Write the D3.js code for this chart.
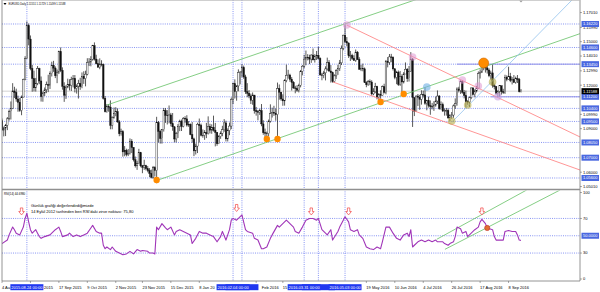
<!DOCTYPE html>
<html><head><meta charset="utf-8">
<script src="https://cdn.jsdelivr.net/npm/d3@7/dist/d3.min.js"></script>
<style>
html,body{margin:0;padding:0;background:#fff;}
svg{display:block;font-family:"Liberation Sans",Arial,sans-serif;}
</style></head><body>
<svg id="chart" width="600" height="292"></svg>
<script>
// ---------------- categories (trading days) ----------------
const firstDate = "2015-08-04", lastDate = "2016-09-19";
const closedDates = ["2015-12-25", "2016-01-01"];

// ---------------- EURUSD daily OHLC ----------------
const open = [1.0955,1.0890,1.0905,1.0923,1.0968,1.1017,1.1040,1.1160,1.1150,1.1105,1.1082,1.1025,1.1118,1.1240,1.1385,1.1611,1.1518,1.1316,1.1246,1.1182,
1.1212,1.1315,1.1229,1.1121,1.1146,1.1168,1.1203,1.1201,1.1279,1.1338,1.1318,1.1265,1.1290,1.1432,1.1302,1.1193,1.1131,1.1187,1.1206,1.1198,1.1239,1.1247,
1.1177,1.1194,1.1212,1.1190,1.1262,1.1245,1.1276,1.1357,1.1360,1.1379,1.1472,1.1380,1.1348,1.1324,1.1346,1.1343,1.1110,1.1017,1.1052,1.1049,1.0924,1.0975,
1.1004,1.1017,1.0947,1.0865,1.0880,1.0740,1.0751,1.0722,1.0729,1.0814,1.0771,1.0686,1.0644,1.0658,1.0734,1.0644,1.0634,1.0645,1.0624,1.0612,1.0592,
1.0565,1.0632,1.0612,1.0942,1.0882,1.0832,1.0893,1.1025,1.0993,1.0989,1.0995,1.0934,1.0913,1.0829,1.0867,1.0916,1.0952,1.0916,1.0970,1.0968,1.0925,1.0931,
1.0860,1.0830,1.0747,1.0780,1.0930,1.0922,1.0855,1.0854,1.0874,1.0865,1.0916,1.0890,1.0910,1.0890,1.0874,1.0796,1.0846,1.0868,1.0893,1.0940,
1.0830,1.0887,1.0918,1.1102,1.1210,1.1156,1.1195,1.1288,1.1290,1.1322,1.1257,1.1155,1.1144,1.1126,1.1096,1.1132,1.1025,1.1017,1.1013,1.1024,1.0933,
1.0872,1.0870,1.0866,1.0952,1.1003,1.1013,1.1007,1.0997,1.1177,1.1152,1.1105,1.1092,1.1232,1.1268,1.1270,1.1240,1.1220,1.1181,1.1177,1.1165,1.1199,1.1295,1.1331,
1.1380,1.1390,1.1392,1.1380,1.1408,1.1375,1.1397,1.1407,1.1385,1.1271,1.1268,1.1285,1.1312,1.1356,1.1298,1.1286,1.1224,1.1264,1.1300,1.1316,1.1354,
1.1454,1.1545,1.1500,1.1491,1.1403,1.1404,1.1385,1.1371,1.1428,1.1378,1.1310,1.1316,1.1313,1.1218,1.1203,1.1225,1.1222,1.1140,1.1154,1.1192,1.1116,1.1136,
1.1131,1.1189,1.1151,1.1365,1.1357,1.1395,1.1393,1.1313,1.1253,1.1290,1.1205,1.1260,1.1222,1.1277,1.1310,1.1245,1.1296,1.1380,1.1115,1.1021,1.1125,1.1117,
1.1103,1.1135,1.1133,1.1075,1.1093,1.1059,1.1052,1.1053,1.1063,1.1091,1.1125,1.1038,1.1066,1.1022,1.1023,1.1025,1.0975,1.0993,1.0994,1.1057,1.1074,
1.1174,1.1163,1.1224,1.1151,1.1129,1.1087,1.1084,1.1113,1.1181,1.1136,1.1160,1.1180,1.1280,1.1290,1.1350,1.1325,1.1319,1.1305,1.1265,1.1285,1.1197,1.1190,1.1144,
1.1157,1.1196,1.1155,1.1150,1.1255,1.1240,1.1260,1.1233,1.1240,1.1220,1.1245,1.1240,1.1155];
const high = [1.0970,1.0915,1.0933,1.0980,1.1032,1.1088,1.1214,1.1189,1.1176,1.1128,1.1112,1.1129,1.1245,1.1400,1.1640,1.1625,1.1543,1.1340,1.1300,1.1250,
1.1332,1.1320,1.1260,1.1156,1.1184,1.1225,1.1272,1.1295,1.1362,1.1368,1.1330,1.1308,1.1438,1.1460,1.1323,1.1220,1.1200,1.1245,1.1241,1.1258,1.1270,1.1270,
1.1206,1.1237,1.1251,1.1288,1.1296,1.1300,1.1386,1.1387,1.1400,1.1478,1.1495,1.1410,1.1378,1.1385,1.1372,1.1349,1.1125,1.1069,1.1070,1.1095,1.0985,1.1046,
1.1048,1.1040,1.0959,1.0900,1.0890,1.0780,1.0762,1.0760,1.0833,1.0828,1.0763,1.0708,1.0679,1.0761,1.0740,1.0650,1.0686,1.0651,1.0643,1.0628,1.0618,
1.0643,1.0641,1.0982,1.0953,1.0893,1.0897,1.1043,1.1042,1.1028,1.1060,1.1009,1.1008,1.0917,1.0878,1.0932,1.0962,1.0963,1.0980,1.0986,1.0993,1.0953,1.0936,
1.0946,1.0838,1.0797,1.0941,1.0970,1.0935,1.0895,1.0890,1.0940,1.0985,1.0934,1.0930,1.0990,1.0940,1.0876,1.0856,1.0882,1.0920,1.0966,1.0955,
1.0902,1.0942,1.1115,1.1217,1.1240,1.1199,1.1309,1.1298,1.1345,1.1335,1.1272,1.1214,1.1166,1.1142,1.1150,1.1055,1.1050,1.1029,1.1038,1.1070,1.0958,
1.0901,1.0880,1.0963,1.1068,1.1045,1.1058,1.1039,1.1218,1.1205,1.1152,1.1137,1.1241,1.1342,1.1306,1.1279,1.1256,1.1228,1.1196,1.1200,1.1210,1.1305,1.1339,1.1410,
1.1439,1.1414,1.1410,1.1413,1.1453,1.1414,1.1436,1.1465,1.1392,1.1285,1.1299,1.1330,1.1390,1.1373,1.1339,1.1294,1.1275,1.1310,1.1340,1.1374,1.1474,
1.1548,1.1616,1.1532,1.1495,1.1436,1.1417,1.1406,1.1446,1.1435,1.1393,1.1340,1.1349,1.1322,1.1227,1.1236,1.1240,1.1234,1.1179,1.1216,1.1196,1.1146,1.1165,
1.1198,1.1210,1.1374,1.1394,1.1415,1.1416,1.1399,1.1318,1.1299,1.1301,1.1298,1.1275,1.1290,1.1357,1.1318,1.1332,1.1428,1.1388,1.1112,1.1130,1.1139,1.1133,
1.1165,1.1163,1.1187,1.1099,1.1121,1.1095,1.1078,1.1090,1.1121,1.1164,1.1132,1.1088,1.1080,1.1039,1.1043,1.1040,1.1000,1.1015,1.1067,1.1109,1.1185,
1.1189,1.1234,1.1236,1.1167,1.1163,1.1097,1.1122,1.1184,1.1186,1.1172,1.1195,1.1295,1.1309,1.1366,1.1361,1.1342,1.1349,1.1316,1.1300,1.1342,1.1210,1.1194,1.1166,
1.1200,1.1195,1.1175,1.1272,1.1268,1.1327,1.1285,1.1256,1.1270,1.1259,1.1270,1.1250,1.1173];
const low = [1.0888,1.0847,1.0849,1.0890,1.0956,1.0963,1.1035,1.1112,1.1086,1.1017,1.1016,1.0993,1.1116,1.1234,1.1380,1.1475,1.1303,1.1155,1.1157,1.1156,
1.1200,1.1207,1.1087,1.1086,1.1125,1.1145,1.1152,1.1174,1.1260,1.1292,1.1249,1.1214,1.1277,1.1290,1.1169,1.1085,1.1105,1.1179,1.1164,1.1160,1.1185,1.1150,
1.1142,1.1108,1.1168,1.1179,1.1209,1.1192,1.1268,1.1332,1.1330,1.1369,1.1370,1.1344,1.1321,1.1310,1.1330,1.1101,1.1012,1.1010,1.1017,1.0896,1.0896,1.0969,
1.0986,1.0941,1.0848,1.0852,1.0707,1.0710,1.0709,1.0711,1.0722,1.0732,1.0674,1.0632,1.0616,1.0656,1.0634,1.0593,1.0616,1.0612,1.0599,1.0566,1.0558,
1.0555,1.0570,1.0524,1.0805,1.0797,1.0797,1.0880,1.0940,1.0929,1.0937,1.0916,1.0886,1.0806,1.0805,1.0836,1.0883,1.0884,1.0909,1.0941,1.0914,1.0913,1.0855,
1.0803,1.0711,1.0722,1.0732,1.0804,1.0847,1.0838,1.0823,1.0835,1.0860,1.0867,1.0865,1.0880,1.0778,1.0782,1.0794,1.0830,1.0848,1.0879,1.0812,
1.0812,1.0855,1.0897,1.1070,1.1108,1.1093,1.1158,1.1206,1.1255,1.1244,1.1140,1.1117,1.1110,1.1070,1.1065,1.1004,1.0990,1.0958,1.0995,1.0917,1.0858,
1.0835,1.0826,1.0847,1.0942,1.0977,1.0988,1.0955,1.0822,1.1100,1.1093,1.1058,1.1059,1.1220,1.1245,1.1223,1.1163,1.1175,1.1144,1.1155,1.1150,1.1185,1.1268,1.1318,
1.1338,1.1371,1.1345,1.1354,1.1370,1.1356,1.1374,1.1378,1.1265,1.1234,1.1248,1.1233,1.1300,1.1291,1.1218,1.1217,1.1217,1.1243,1.1271,1.1298,1.1339,
1.1441,1.1490,1.1468,1.1388,1.1367,1.1374,1.1368,1.1361,1.1374,1.1306,1.1297,1.1296,1.1216,1.1186,1.1195,1.1200,1.1129,1.1131,1.1145,1.1102,1.1099,1.1106,
1.1129,1.1143,1.1137,1.1323,1.1341,1.1358,1.1301,1.1241,1.1207,1.1195,1.1195,1.1130,1.1212,1.1300,1.1223,1.1225,1.1294,1.0912,1.0987,1.1026,1.1057,1.1030,
1.1066,1.1115,1.1065,1.1027,1.1046,1.0996,1.1033,1.1023,1.1052,1.1070,1.1030,1.1030,1.1015,1.0990,1.0990,1.0967,1.0952,1.0968,1.0975,1.1037,1.1059,
1.1150,1.1140,1.1141,1.1109,1.1046,1.1065,1.1050,1.1104,1.1130,1.1116,1.1150,1.1175,1.1246,1.1284,1.1303,1.1287,1.1280,1.1255,1.1238,1.1183,1.1171,1.1135,1.1122,
1.1123,1.1135,1.1140,1.1140,1.1227,1.1238,1.1221,1.1205,1.1215,1.1210,1.1215,1.1150,1.1150];
const close = [1.0890,1.0905,1.0923,1.0968,1.1017,1.1040,1.1160,1.1150,1.1105,1.1082,1.1025,1.1118,1.1240,1.1385,1.1611,1.1518,1.1316,1.1246,1.1182,1.1212,
1.1315,1.1229,1.1121,1.1146,1.1168,1.1203,1.1201,1.1279,1.1338,1.1318,1.1265,1.1290,1.1432,1.1302,1.1193,1.1131,1.1187,1.1206,1.1198,1.1239,1.1247,1.1177,
1.1194,1.1212,1.1190,1.1262,1.1245,1.1276,1.1357,1.1360,1.1379,1.1472,1.1380,1.1348,1.1324,1.1346,1.1343,1.1110,1.1017,1.1052,1.1049,1.0924,1.0975,1.1004,
1.1017,1.0947,1.0865,1.0880,1.0740,1.0751,1.0722,1.0729,1.0814,1.0771,1.0686,1.0644,1.0658,1.0734,1.0644,1.0634,1.0645,1.0624,1.0612,1.0592,1.0565,
1.0632,1.0612,1.0942,1.0882,1.0832,1.0893,1.1025,1.0993,1.0989,1.0995,1.0934,1.0913,1.0829,1.0867,1.0916,1.0952,1.0916,1.0970,1.0968,1.0925,1.0931,1.0860,
1.0830,1.0747,1.0780,1.0930,1.0922,1.0855,1.0854,1.0874,1.0865,1.0916,1.0890,1.0910,1.0890,1.0874,1.0796,1.0846,1.0868,1.0893,1.0940,1.0830,
1.0887,1.0918,1.1102,1.1210,1.1156,1.1195,1.1288,1.1290,1.1322,1.1257,1.1155,1.1144,1.1126,1.1096,1.1132,1.1025,1.1017,1.1013,1.1024,1.0933,1.0872,
1.0870,1.0866,1.0952,1.1003,1.1013,1.1007,1.0997,1.1177,1.1152,1.1105,1.1092,1.1232,1.1268,1.1270,1.1240,1.1220,1.1181,1.1177,1.1165,1.1199,1.1295,1.1331,1.1380,
1.1390,1.1392,1.1380,1.1408,1.1375,1.1397,1.1407,1.1385,1.1271,1.1268,1.1285,1.1312,1.1356,1.1298,1.1286,1.1224,1.1264,1.1300,1.1316,1.1354,1.1454,
1.1545,1.1500,1.1491,1.1403,1.1404,1.1385,1.1371,1.1428,1.1378,1.1310,1.1316,1.1313,1.1218,1.1203,1.1225,1.1222,1.1140,1.1154,1.1192,1.1116,1.1136,1.1131,
1.1189,1.1151,1.1365,1.1357,1.1395,1.1393,1.1313,1.1253,1.1290,1.1205,1.1260,1.1222,1.1277,1.1310,1.1245,1.1296,1.1380,1.1115,1.1021,1.1125,1.1117,1.1103,
1.1135,1.1133,1.1075,1.1093,1.1059,1.1052,1.1053,1.1063,1.1091,1.1125,1.1038,1.1066,1.1022,1.1023,1.1025,1.0975,1.0993,1.0994,1.1057,1.1074,1.1174,
1.1163,1.1224,1.1151,1.1129,1.1087,1.1084,1.1113,1.1181,1.1136,1.1160,1.1180,1.1280,1.1290,1.1350,1.1325,1.1319,1.1305,1.1265,1.1285,1.1197,1.1190,1.1144,1.1157,
1.1196,1.1155,1.1150,1.1255,1.1240,1.1260,1.1233,1.1240,1.1220,1.1245,1.1240,1.1155,1.1159];

// ---------------- RSI(14) ----------------
const rsiBar = [0,3,4,6,7,8,10,12,13,14,15,16,17,19,20,21,22,24,27,30,32,33,34,37,38,40,42,44,46,48,50,51,53,55,56,57,58,59,61,62,64,66,68,70,72,74,76,78,79,82,83,85,86,87,88,90,92,93,95,97,98,100,102,104,106,107,109,111,113,115,117,119,121,123,124,126,128,129,130,132,134,135,137,138,141,142,144,146,147,149,151,152,155,156,158,160,162,164,165,167,169,171,173,175,177,178,180,183,185,186,189,190,192,193,195,196,198,200,201,203,205,207,209,211,213,214,216,218,220,222,224,226,228,229,230,231,232,234,236,238,240,242,244,245,248,249,251,252,254,255,256,258,259,261,262,264,266,268,269,270,272,273,276,277,278,280,282,283,285,287,289,290,291,292];
const rsiValue = [41,45,51,60,57,53,51,60,70,76,66,57,53,57,53,49,47,49,51,57,60,55,49,51,53,49,51,49,51,53,59,62,55,53,53,39,35,37,34,37,32,30,28,29,32,29,34,32,33,32,30,30,29,60,57,64,59,57,60,51,55,57,55,53,51,41,47,55,53,53,51,49,43,49,55,45,57,68,70,68,72,74,57,55,53,47,45,35,35,37,47,51,62,60,64,68,64,60,55,53,60,68,70,70,68,70,57,51,57,45,55,60,68,72,66,57,55,57,51,47,37,35,34,37,35,43,60,60,53,47,45,51,53,49,57,37,39,43,45,43,45,43,45,43,43,41,39,41,43,49,60,58,53,55,49,53,57,60,66,69,64,59,57,49,45,45,45,55,56,55,55,51,45,44.7];
const rsiNow = "44.6980";

// ---------------- axis tick labels ----------------
const priceTicks = [1.1701,1.1599,1.1500,1.1401,1.1299,1.1200,1.0999,1.0900,1.0600,1.0501];
const rsiTicks = [100,70,30,0];
// date labels and the part of each label that stays visible next to the line labels
const timeLabels = ["2015-08-04","2015-08-26","2015-09-17","2015-10-09","2015-11-02","2015-11-23","2015-12-15","2016-01-08","2016-02-23","2016-03-15","2016-05-19","2016-06-10","2016-07-04","2016-07-26","2016-08-17","2016-09-08"];
const timeLabelShown = ["4 Au","2015","17 Sep 2015","9 Oct 2015","2 Nov 2015","23 Nov 2015","15 Dec 2015","8 Jan 20","Feb 2016","15","19 May 2016","10 Jun 2016","4 Jul 2016","26 Jul 2016","17 Aug 2016","8 Sep 2016"];

// ---------------- drawn objects ----------------
const levelPrices = [1.1622,1.1460,1.1345,1.1120,1.1040,1.0950,1.0805,1.0700,1.0560];
const bidPrice = 1.11588;
const headerValues = ["1.11551","1.11729","1.11499","1.11588"];
const vlineDates = ["2015-08-24","2016-02-11","2016-02-04","2016-04-12","2016-03-31","2016-05-03"];
const vlineLabelShown = [true,false,true,false,true,true];
const segStartBar = [256, 275];
const segPrice = [1.1345, 1.1120];
// trend lines (rays)
const trendBar1 = [59, 87.8, 193.9, 186.2, 253.2];
const trendP1 = [1.1063, 1.0546, 1.1615, 1.1222, 1.0946];
const trendBar2 = [224, 271, 325.2, 325.2, 320.7];
const trendP2 = [1.1753, 1.1325, 1.0843, 1.0615, 1.17875];
const trendColor = ["#66c266","#66c266","#ff7b7b","#ff7b7b","#93c3ee"];
// markers on the price pane
const dotBar = [87,149,155,213,226,271];
const dotPrice = [1.0546,1.0829,1.0829,1.1084,1.1139,1.1353];
const dotSize = [3.2,3.2,3.2,3.2,3.2,5];
const ringBar = [194,231,239,259,268,276,279,253,262];
const ringPrice = [1.1615,1.1394,1.1187,1.1236,1.1194,1.1222,1.1121,1.0953,1.1063];
const ringColor = ["rgba(222,150,210,0.55)","rgba(222,150,210,0.55)","rgba(120,180,230,0.65)","rgba(222,150,210,0.55)","rgba(222,150,210,0.55)","rgba(180,170,70,0.6)","rgba(200,160,225,0.6)","rgba(180,170,70,0.6)","rgba(180,170,70,0.6)"];
// RSI pane objects
const arrowBar = [11,132,174,195,270];
const arrowRsi = [78,82,78,78,78];
const rsiDotBar = [273], rsiDotValue = [59];
const rsiTrendBar1 = [244.6, 249.2], rsiTrendV1 = [45.9, 34.3];
const rsiTrendBar2 = [295.2, 314], rsiTrendV2 = [102.9, 102.9];
const noteLines = ["Günlük grafiği değerlendirdiğimizde","14 Eylül 2012 tarihinden beri RSI'daki zirve noktası: 75,80"];

// ================= drawing =================
const fmt = d3.timeFormat("%Y-%m-%d"), parse = d3.timeParse("%Y-%m-%d");
const dates = d3.timeDay.range(parse(firstDate), d3.timeDay.offset(parse(lastDate), 1))
  .filter(d => d.getDay() !== 0 && d.getDay() !== 6 && !closedDates.includes(fmt(d)));
const idxOf = s => dates.findIndex(d => fmt(d) === s);

const R = 580, L = 2, MAIN_B = 188.5, RSI_T = 190.5, RSI_B = 281;
const x = d3.scaleLinear().domain([0, dates.length - 1]).range([2, 521]);
const y = d3.scaleLinear().domain([1.04910, 1.17875]).range([188, 0]);
const yr = d3.scaleLinear().domain([0, 100]).range([279, 192.5]);

const svg = d3.select("#chart");
const defs = svg.append("defs");
defs.append("clipPath").attr("id","cm").append("rect").attr("x",L).attr("y",0).attr("width",R-L).attr("height",MAIN_B);
defs.append("clipPath").attr("id","cr").append("rect").attr("x",L).attr("y",RSI_T).attr("width",R-L).attr("height",RSI_B-RSI_T);
svg.append("rect").attr("width",600).attr("height",292).attr("fill","#fff");

const gm = svg.append("g").attr("clip-path","url(#cm)");
const gr = svg.append("g").attr("clip-path","url(#cr)");
const DOT = "#6a7af0";

gm.selectAll("line.lv").data(levelPrices).join("line")
  .attr("x1",L).attr("x2",R).attr("y1",d=>y(d)).attr("y2",d=>y(d))
  .attr("stroke",DOT).attr("stroke-width",0.8).attr("stroke-dasharray","1,1.2");
gm.append("line").attr("x1",L).attr("x2",R).attr("y1",y(bidPrice)).attr("y2",y(bidPrice))
  .attr("stroke","#c8c8c8").attr("stroke-width",0.8);
[gm, gr].forEach(g => g.selectAll("line.vl").data(vlineDates).join("line")
  .attr("x1",d=>x(idxOf(d))).attr("x2",d=>x(idxOf(d))).attr("y1",0).attr("y2",RSI_B)
  .attr("stroke",DOT).attr("stroke-width",0.8).attr("stroke-dasharray","1,1.2"));
gm.selectAll("line.seg").data(segPrice).join("line")
  .attr("x1",(d,i)=>x(segStartBar[i])).attr("x2",R).attr("y1",d=>y(d)).attr("y2",d=>y(d))
  .attr("stroke","#8a8ae6").attr("stroke-width",0.9);

// candles
const bars = d3.range(dates.length).map(i => ({i, o:open[i], h:high[i], l:low[i], c:close[i]}));
gm.selectAll("line.wk").data(bars).join("line")
  .attr("x1",d=>x(d.i)).attr("x2",d=>x(d.i))
  .attr("y1",d=>y(Math.max(d.h,d.o,d.c))).attr("y2",d=>y(Math.min(d.l,d.o,d.c)))
  .attr("stroke","#111").attr("stroke-width",0.7);
gm.selectAll("rect.bd").data(bars).join("rect")
  .attr("x",d=>x(d.i)-0.75).attr("width",1.5)
  .attr("y",d=>y(Math.max(d.o,d.c))).attr("height",d=>Math.max(0.5,Math.abs(y(d.o)-y(d.c))))
  .attr("fill",d=>d.c>=d.o?"#fff":"#111").attr("stroke","#111").attr("stroke-width",0.4);

// trend lines
const rayEnd = x.invert(R + 40);
gm.selectAll("line.tr").data(trendBar1).join("line")
  .each(function(b1,i){
    const s = (trendP2[i]-trendP1[i])/(trendBar2[i]-b1);
    d3.select(this).attr("x1",x(b1)).attr("y1",y(trendP1[i]))
      .attr("x2",x(rayEnd)).attr("y2",y(trendP1[i]+s*(rayEnd-b1)));
  })
  .attr("stroke",(d,i)=>trendColor[i]).attr("stroke-width",0.8);

// markers
gm.selectAll("circle.rg").data(ringBar).join("circle")
  .attr("cx",d=>x(d)).attr("cy",(d,i)=>y(ringPrice[i])).attr("r",3.8)
  .attr("fill",(d,i)=>ringColor[i]);
gm.selectAll("circle.dt").data(dotBar).join("circle")
  .attr("cx",d=>x(d)).attr("cy",(d,i)=>y(dotPrice[i])).attr("r",(d,i)=>dotSize[i])
  .attr("fill","#ff8c00").attr("stroke",(d,i)=>dotSize[i]>4?"#d06a00":"none").attr("stroke-width",0.6);

svg.append("path").attr("d",`M${x(dates.length-1)-1.8},0.5 L${x(dates.length-1)+1.8},0.5 L${x(dates.length-1)},2.6Z`).attr("fill","#999");

// ---------- RSI pane ----------
[70,50,30].forEach(v => gr.append("line").attr("x1",L).attr("x2",R).attr("y1",yr(v)).attr("y2",yr(v))
  .attr("stroke",DOT).attr("stroke-width",0.8).attr("stroke-dasharray","1,1.2"));
gr.selectAll("line.rt").data(rsiTrendBar1).join("line")
  .attr("x1",d=>x(d)).attr("y1",(d,i)=>yr(rsiTrendV1[i]))
  .attr("x2",(d,i)=>x(rsiTrendBar2[i])).attr("y2",(d,i)=>yr(rsiTrendV2[i]))
  .attr("stroke","#66c266").attr("stroke-width",0.8);
gr.append("path").datum(rsiBar.map((b,i)=>[b,rsiValue[i]]))
  .attr("d", d3.line().x(d=>x(d[0])).y(d=>yr(d[1])))
  .attr("fill","none").attr("stroke","#a035b8").attr("stroke-width",1.1).attr("stroke-linejoin","round");
gr.selectAll("circle.rd").data(rsiDotBar).join("circle")
  .attr("cx",d=>x(d)).attr("cy",(d,i)=>yr(rsiDotValue[i])).attr("r",2.6)
  .attr("fill","#e07030").attr("stroke","#c03030").attr("stroke-width",0.6);
gr.selectAll("path.ar").data(arrowBar).join("path")
  .attr("transform",(d,i)=>`translate(${x(d)},${yr(arrowRsi[i])})`)
  .attr("d","M-1.2,-3.6 L1.2,-3.6 L1.2,0 L2.8,0 L0,3.4 L-2.8,0 L-1.2,0 Z")
  .attr("fill","#fff").attr("stroke","#f04040").attr("stroke-width",0.7);

// ---------- frame ----------
const fr = svg.append("g").attr("fill","none").attr("stroke","#7a7a7a");
fr.append("line").attr("x1",L).attr("x2",L).attr("y1",0).attr("y2",RSI_B).attr("stroke-width",0.8);
fr.append("line").attr("x1",R).attr("x2",R).attr("y1",0).attr("y2",RSI_B).attr("stroke-width",0.8);
fr.append("line").attr("x1",L).attr("x2",R).attr("y1",0.4).attr("y2",0.4).attr("stroke-width",0.8).attr("stroke","#bbb");
fr.append("line").attr("x1",L).attr("x2",R).attr("y1",189.5).attr("y2",189.5).attr("stroke-width",1.6).attr("stroke","#909090");
fr.append("line").attr("x1",L).attr("x2",R).attr("y1",RSI_B).attr("y2",RSI_B).attr("stroke-width",0.8);

// ---------- right axis ----------
const FS = 4;
const ax = svg.append("g").attr("font-size",FS);
priceTicks.forEach(p => {
  ax.append("line").attr("x1",R).attr("x2",R+2).attr("y1",y(p)).attr("y2",y(p)).attr("stroke","#555").attr("stroke-width",0.5);
  ax.append("text").attr("x",R+3).attr("y",y(p)).attr("dy","0.36em").text(d3.format(".5f")(p));
});
const boxLabel = (g, yy, txt, fill) => {
  g.append("rect").attr("x",R+1.5).attr("y",yy-3).attr("width",17.5).attr("height",6).attr("fill",fill);
  g.append("text").attr("x",R+3).attr("y",yy).attr("dy","0.36em").attr("fill","#fff").text(txt);
};
levelPrices.forEach(p => boxLabel(ax, y(p), d3.format(".5f")(p), "#4a68e0"));
boxLabel(ax, y(bidPrice), d3.format(".5f")(bidPrice), "#000");
rsiTicks.forEach(v => {
  ax.append("line").attr("x1",R).attr("x2",R+2).attr("y1",yr(v)).attr("y2",yr(v)).attr("stroke","#555").attr("stroke-width",0.5);
  ax.append("text").attr("x",R+3).attr("y",yr(v)).attr("dy","0.36em").text(v);
});
boxLabel(ax, yr(50), "50.0000", "#4a68e0");

// ---------- time axis ----------
const dateTxt = d3.timeFormat("%-d %b %Y");
const measure = ax.append("text").attr("visibility","hidden");
timeLabels.forEach((s,k) => {
  const xx = x(idxOf(s));
  const full = dateTxt(parse(s)), shown = timeLabelShown[k];
  ax.append("line").attr("x1",xx).attr("x2",xx).attr("y1",RSI_B).attr("y2",RSI_B+2).attr("stroke","#555").attr("stroke-width",0.5);
  const t = ax.append("text").attr("y",289).text(shown);
  if (full.startsWith(shown)) t.attr("x",xx);
  else { measure.text(full); const w = measure.node().getComputedTextLength(); t.attr("x",xx+w).attr("text-anchor","end"); }
});
measure.remove();
const vfmt = d3.timeFormat("%Y.%m.%d 00:00");
vlineDates.forEach((s,k) => {
  const xx = x(idxOf(s));
  ax.append("rect").attr("x",xx-16.5).attr("y",284.2).attr("width",33).attr("height",6).attr("fill","#2038f0");
  if (vlineLabelShown[k]) ax.append("text").attr("x",xx).attr("y",289).attr("text-anchor","middle").attr("fill","#fff").text(vfmt(parse(s)));
});

// ---------- texts ----------
svg.append("path").attr("d","M3.5,3 L6.5,3 L5,5Z").attr("fill","#000");
svg.append("text").attr("x",8.5).attr("y",5.3).attr("font-size",2.6)
  .text("EURUSD,Daily  " + headerValues.join(" "));
svg.append("text").attr("x",4).attr("y",194.8).attr("font-size",2.9).text("RSI(14) " + rsiNow);
noteLines.forEach((t,i) => svg.append("text").attr("x",31).attr("y",206.5+i*6).attr("font-size",FS).text(t));
</script>
</body></html>
